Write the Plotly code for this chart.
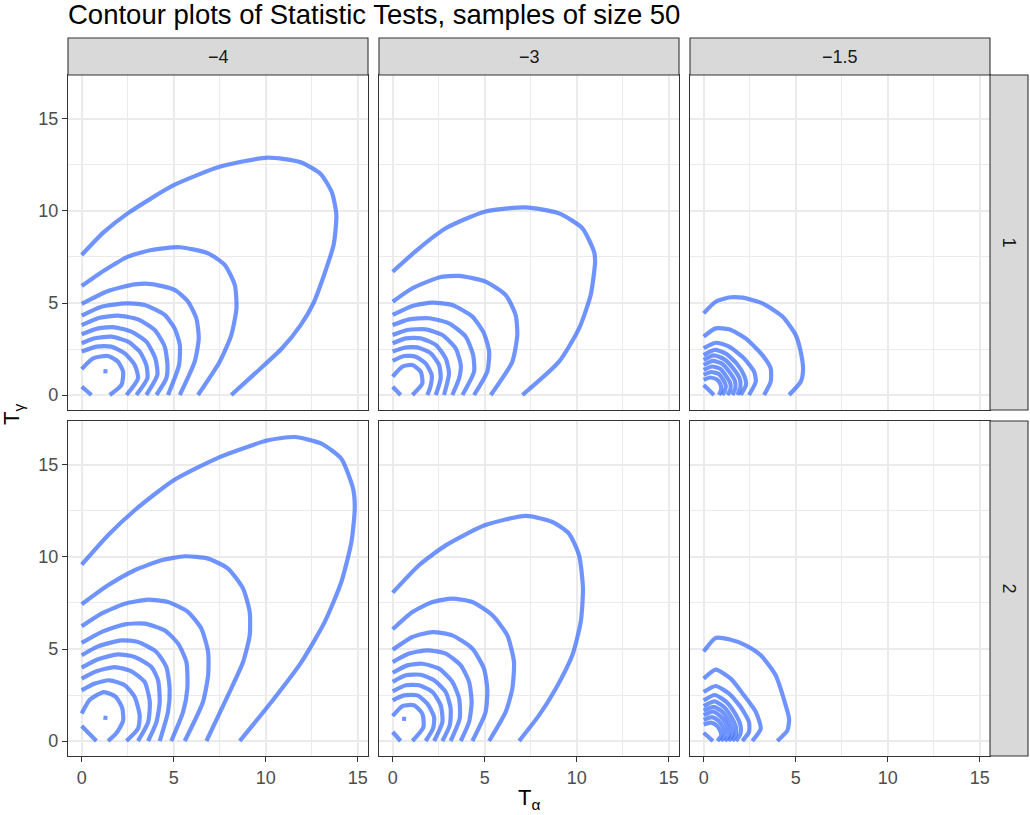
import plotly.graph_objects as go

W, H = 1030, 815

title_text = "Contour plots of Statistic Tests, samples of size 50"
col_labels = ["\u22124", "\u22123", "\u22121.5"]
row_labels = ["1", "2"]
x_ticks = [0, 5, 10, 15]
y_ticks = [0, 5, 10, 15]

# ---- contour lines (T_alpha, T_gamma) ----
# row 1, column -4
r1_m4_x = [
    [0, 1.2, 2.5, 5.0, 7.5, 10.1, 11.9, 13.0, 13.6, 13.84, 13.7, 13.2, 12.6, 11.9, 10.85, 9.45, 8.13],
    [0, 1.2, 2.52, 3.79, 5.33, 6.87, 7.77, 8.32, 8.41, 8.13, 7.5, 6.32],
    [0, 1.43, 2.88, 3.79, 5.05, 5.78, 6.23, 6.36, 6.14, 5.33],
    [0, 1.07, 2.43, 3.42, 4.51, 5.05, 5.33, 5.29, 4.69],
    [0, 0.98, 1.97, 3.06, 3.97, 4.51, 4.66, 4.60, 4.06],
    [0, 0.89, 1.79, 2.70, 3.51, 4.0, 4.11, 3.51],
    [0, 0.71, 1.61, 2.52, 3.15, 3.51, 3.57, 2.97],
    [0, 0.80, 1.61, 2.34, 2.88, 3.06, 2.43],
    [0, 0.62, 1.43, 1.97, 2.25, 2.16, 1.52],
    [0, 0.53],
    [1.18, 1.40],
]
r1_m4_y = [
    [7.61, 8.85, 9.87, 11.4, 12.4, 12.9, 12.65, 12.0, 11.0, 9.8, 8.2, 6.6, 5.0, 3.8, 2.5, 1.2, 0],
    [5.92, 6.75, 7.52, 7.88, 8.03, 7.7, 7.07, 5.98, 4.71, 3.26, 1.81, 0],
    [4.95, 5.65, 6.01, 6.03, 5.71, 5.07, 4.17, 3.08, 1.81, 0],
    [4.31, 4.80, 4.98, 4.89, 4.35, 3.62, 2.72, 1.63, 0],
    [3.80, 4.20, 4.31, 4.11, 3.53, 2.63, 1.63, 0.91, 0],
    [3.30, 3.62, 3.68, 3.44, 2.90, 1.99, 1.09, 0],
    [2.81, 3.08, 3.17, 2.90, 2.36, 1.63, 0.91, 0],
    [2.36, 2.63, 2.63, 2.26, 1.63, 0.91, 0],
    [1.41, 1.99, 2.12, 1.81, 1.27, 0.54, 0],
    [0.45, 0],
    [1.30, 1.28],
]

# row 1, column -3
r1_m3_x = [
    [0, 1.43, 2.88, 5.0, 7.23, 9.04, 10.31, 10.94, 11.0, 10.76, 10.13, 9.04, 7.05],
    [0, 1.07, 2.52, 3.61, 5.05, 6.14, 6.68, 6.77, 6.50, 5.33],
    [0, 1.07, 2.16, 3.24, 4.33, 4.96, 5.24, 5.14, 4.42],
    [0, 0.89, 1.97, 3.06, 3.97, 4.37, 4.42, 3.79],
    [0, 0.80, 1.79, 2.70, 3.42, 3.70, 3.61, 3.24],
    [0, 0.71, 1.52, 2.34, 2.88, 3.06, 2.79],
    [0, 0.62, 1.34, 2.07, 2.52, 2.61, 2.34],
    [0, 0.62, 1.25, 1.79, 2.12, 2.05, 1.88],
    [0, 0.53, 1.07, 1.52, 1.61, 1.07],
    [0, 0.43],
]
r1_m3_y = [
    [6.70, 7.97, 9.06, 9.96, 10.2, 9.87, 9.06, 7.79, 7.25, 5.43, 3.62, 1.81, 0],
    [5.07, 5.80, 6.39, 6.47, 6.16, 5.43, 4.35, 3.26, 1.81, 0],
    [4.35, 4.84, 5.02, 4.89, 4.26, 3.35, 2.36, 1.27, 0],
    [3.80, 4.11, 4.17, 3.89, 3.17, 2.17, 1.27, 0],
    [3.26, 3.53, 3.57, 3.26, 2.54, 1.63, 0.91, 0],
    [2.81, 3.08, 3.08, 2.72, 1.99, 1.18, 0],
    [2.36, 2.57, 2.59, 2.26, 1.63, 0.91, 0],
    [1.85, 2.12, 2.08, 1.72, 1.09, 0.45, 0],
    [1.0, 1.54, 1.63, 1.27, 0.63, 0],
    [0.45, 0],
]

# row 1, column -1.5
r1_m15_x = [
    [0, 0.65, 1.47, 2.10, 3.19, 4.28, 5.0, 5.27, 5.40, 5.27, 4.64],
    [0, 0.65, 1.38, 2.28, 3.19, 3.64, 3.64, 3.28],
    [0, 0.65, 1.38, 2.19, 2.74, 2.83, 2.46],
    [0, 0.6, 1.2, 1.8, 2.2, 2.3, 2.01],
    [0, 0.55, 1.1, 1.6, 1.95, 2.0, 1.83],
    [0, 0.5, 1.0, 1.4, 1.7, 1.72, 1.56],
    [0, 0.45, 0.9, 1.2, 1.45, 1.45, 1.29],
    [0, 0.4, 0.8, 1.05, 1.2, 1.15, 1.01],
    [0, 0.35, 0.7, 0.9, 0.95, 0.83],
    [0, 0.56],
]
r1_m15_y = [
    [4.44, 5.07, 5.31, 5.29, 4.98, 4.26, 3.26, 2.36, 1.36, 0.72, 0],
    [3.17, 3.62, 3.57, 3.08, 2.17, 1.45, 0.72, 0],
    [2.54, 2.84, 2.63, 1.99, 1.27, 0.72, 0],
    [2.17, 2.45, 2.25, 1.7, 1.05, 0.55, 0],
    [1.90, 2.15, 1.95, 1.45, 0.9, 0.45, 0],
    [1.63, 1.85, 1.7, 1.25, 0.75, 0.38, 0],
    [1.36, 1.55, 1.42, 1.05, 0.62, 0.3, 0],
    [1.09, 1.25, 1.15, 0.85, 0.5, 0.25, 0],
    [0.82, 0.95, 0.85, 0.6, 0.3, 0],
    [0.54, 0],
]

# row 2, column -4
r2_m4_x = [
    [0, 1.43, 2.88, 5.0, 7.5, 10.13, 11.58, 13.03, 14.11, 14.75, 14.84, 14.66, 14.11, 13.21, 11.94, 10.31, 8.59],
    [0, 1.43, 2.88, 4.33, 5.6, 6.87, 7.95, 8.77, 9.13, 9.13, 8.77, 7.95, 6.78],
    [0, 1.07, 2.34, 3.61, 4.69, 5.78, 6.50, 6.87, 6.87, 6.59, 5.6],
    [0, 1.07, 2.34, 3.42, 4.51, 5.24, 5.69, 5.74, 5.51, 4.87],
    [0, 0.89, 2.16, 3.06, 4.06, 4.60, 4.78, 4.69, 4.24],
    [0, 0.89, 1.97, 2.88, 3.79, 4.15, 4.24, 4.06, 3.61],
    [0, 0.80, 1.79, 2.70, 3.42, 3.70, 3.61, 3.06],
    [0, 0.71, 1.52, 2.34, 2.88, 3.15, 3.06, 2.43],
    [0, 0.45, 1.2, 1.85, 2.2, 2.25, 1.9, 1.43],
    [0, 0.80],
    [1.18, 1.40],
]
r2_m4_y = [
    [9.58, 11.18, 12.54, 14.17, 15.43, 16.34, 16.52, 16.16, 15.34, 13.71, 12.63, 10.82, 8.64, 6.47, 4.29, 2.12, 0],
    [7.43, 8.46, 9.28, 9.82, 10.04, 9.91, 9.37, 8.28, 7.01, 5.74, 4.29, 2.48, 0],
    [6.23, 6.92, 7.46, 7.68, 7.55, 7.01, 6.11, 4.84, 3.57, 2.12, 0],
    [5.33, 5.92, 6.34, 6.38, 6.01, 5.29, 4.29, 2.84, 1.58, 0],
    [4.66, 5.14, 5.47, 5.38, 4.84, 4.02, 2.84, 1.58, 0],
    [3.99, 4.44, 4.71, 4.57, 4.02, 3.30, 2.12, 1.03, 0],
    [3.39, 3.79, 4.02, 3.79, 3.21, 2.12, 1.03, 0],
    [2.75, 3.12, 3.30, 3.03, 2.39, 1.39, 0.67, 0],
    [1.49, 2.25, 2.66, 2.4, 1.8, 1.1, 0.45, 0],
    [0.82, 0],
    [1.27, 1.25],
]

# row 2, column -3
r2_m3_x = [
    [0, 1.43, 2.88, 5.0, 7.23, 8.68, 9.58, 10.13, 10.34, 10.22, 9.76, 8.86, 7.95, 6.87],
    [0, 1.07, 2.16, 3.24, 4.33, 5.42, 6.23, 6.59, 6.50, 6.14, 5.24],
    [0, 1.07, 2.16, 3.24, 4.33, 4.96, 5.14, 5.05, 4.33],
    [0, 0.89, 1.88, 2.88, 3.70, 4.15, 4.29, 4.15, 3.70],
    [0, 0.80, 1.61, 2.52, 3.24, 3.61, 3.64, 3.15],
    [0, 0.71, 1.52, 2.25, 2.88, 3.15, 3.10, 2.70],
    [0, 0.71, 1.43, 2.16, 2.61, 2.70, 2.25],
    [0, 0.62, 1.34, 1.88, 2.25, 2.19, 1.79],
    [0, 0.53, 1.16, 1.61, 1.67, 1.07],
    [0, 0.43],
    [0.51, 0.73],
]
r2_m3_y = [
    [8.06, 9.55, 10.63, 11.72, 12.23, 11.9, 11.27, 10.09, 8.28, 6.47, 4.66, 2.84, 1.39, 0],
    [6.07, 7.01, 7.55, 7.74, 7.55, 6.83, 5.74, 4.29, 2.84, 1.58, 0],
    [4.96, 5.65, 5.92, 5.74, 5.02, 3.93, 2.84, 1.58, 0],
    [4.29, 4.75, 4.93, 4.75, 4.11, 3.21, 2.12, 1.03, 0],
    [3.71, 4.11, 4.20, 3.93, 3.21, 2.30, 1.21, 0],
    [3.21, 3.57, 3.60, 3.30, 2.66, 1.76, 0.85, 0],
    [2.70, 3.03, 3.03, 2.66, 1.94, 1.03, 0],
    [2.21, 2.48, 2.48, 2.03, 1.30, 0.67, 0],
    [1.36, 1.90, 1.94, 1.49, 0.76, 0],
    [0.49, 0],
    [1.21, 1.20],
]

# row 2, column -1.5
r2_m15_x = [
    [0, 0.65, 1.38, 2.28, 3.10, 3.91, 4.35, 4.64, 4.55, 4.0],
    [0, 0.65, 1.47, 2.19, 2.83, 3.10, 2.64],
    [0, 0.65, 1.38, 2.01, 2.46, 2.46, 2.10],
    [0, 0.6, 1.2, 1.7, 2.0, 2.0, 1.75],
    [0, 0.6, 1.1, 1.5, 1.75, 1.75, 1.55],
    [0, 0.55, 1.0, 1.35, 1.55, 1.55, 1.35],
    [0, 0.5, 0.9, 1.2, 1.35, 1.35, 1.15],
    [0, 0.45, 0.8, 1.05, 1.15, 1.1, 0.95],
    [0, 0.4, 0.7, 0.9, 0.95, 0.75],
    [0, 0.5],
]
r2_m15_y = [
    [4.87, 5.60, 5.53, 5.20, 4.66, 3.57, 2.30, 1.21, 0.58, 0],
    [3.39, 3.88, 3.39, 2.48, 1.58, 0.67, 0],
    [2.66, 2.99, 2.57, 1.85, 1.03, 0.49, 0],
    [2.2, 2.5, 2.15, 1.5, 0.85, 0.4, 0],
    [1.9, 2.15, 1.85, 1.3, 0.75, 0.35, 0],
    [1.65, 1.85, 1.6, 1.1, 0.65, 0.3, 0],
    [1.4, 1.6, 1.35, 0.95, 0.55, 0.25, 0],
    [1.15, 1.3, 1.1, 0.75, 0.45, 0.2, 0],
    [0.9, 1.0, 0.85, 0.55, 0.3, 0],
    [0.45, 0],
]

panels = [
    (r1_m4_x, r1_m4_y), (r1_m3_x, r1_m3_y), (r1_m15_x, r1_m15_y),
    (r2_m4_x, r2_m4_y), (r2_m3_x, r2_m3_y), (r2_m15_x, r2_m15_y),
]

# ---- layout geometry (pixels) ----
col_px = [(68, 368), (379, 679), (690, 990)]
row_px = [(75, 410), (421, 756)]
x_range = [-0.745, 15.56]
y_range = [-0.815, 17.39]

LINE_COLOR = "rgba(51,102,255,0.7)"
FONT = "Liberation Sans, Arial, Helvetica, sans-serif"
GRID = "#ebebeb"
DARK = "#333333"

fig = go.Figure()

for i, (px, py) in enumerate(panels):
    ax = "" if i == 0 else str(i + 1)
    for xs, ys in zip(px, py):
        fig.add_trace(go.Scatter(
            x=xs, y=ys, mode="lines",
            line=dict(color=LINE_COLOR, width=4.2, shape="spline", smoothing=0.6),
            xaxis="x" + ax, yaxis="y" + ax,
            showlegend=False, hoverinfo="skip",
        ))

layout = dict(
    width=W, height=H,
    margin=dict(l=0, r=0, t=0, b=0),
    paper_bgcolor="white", plot_bgcolor="white",
    showlegend=False,
    font=dict(family=FONT),
)

for i in range(6):
    r, c = divmod(i, 3)
    ax = "" if i == 0 else str(i + 1)
    l, rr = col_px[c]
    t, b = row_px[r]
    show_x = (r == 1)
    show_y = (c == 0)
    layout["xaxis" + ax] = dict(
        domain=[l / W, rr / W], range=x_range, anchor="y" + ax,
        tickmode="array", tickvals=x_ticks, ticktext=[str(v) for v in x_ticks],
        showticklabels=show_x, ticks="outside" if show_x else "",
        ticklen=5, tickwidth=1.1, tickcolor=DARK,
        tickfont=dict(size=18, color="#4d4d4d", family=FONT),
        showgrid=True, gridcolor=GRID, gridwidth=1.5,
        minor=dict(tick0=0, dtick=2.5, showgrid=True, gridcolor=GRID, gridwidth=0.8, ticks=""),
        zeroline=False, showline=True, mirror=True, linecolor=DARK, linewidth=1.1,
        fixedrange=True,
    )
    layout["yaxis" + ax] = dict(
        domain=[1 - b / H, 1 - t / H], range=y_range, anchor="x" + ax,
        tickmode="array", tickvals=y_ticks, ticktext=[str(v) for v in y_ticks],
        showticklabels=show_y, ticks="outside" if show_y else "",
        ticklen=5, tickwidth=1.1, tickcolor=DARK,
        tickfont=dict(size=18, color="#4d4d4d", family=FONT),
        showgrid=True, gridcolor=GRID, gridwidth=1.5,
        minor=dict(tick0=0, dtick=2.5, showgrid=True, gridcolor=GRID, gridwidth=0.8, ticks=""),
        zeroline=False, showline=True, mirror=True, linecolor=DARK, linewidth=1.1,
        fixedrange=True,
    )

shapes = []
annotations = []
STRIP_FILL = "#d9d9d9"

# top strips
for c, lab in enumerate(col_labels):
    l, rr = col_px[c]
    shapes.append(dict(type="rect", xref="paper", yref="paper",
                       x0=l / W, x1=rr / W, y0=1 - 75 / H, y1=1 - 38 / H,
                       fillcolor=STRIP_FILL, line=dict(color=DARK, width=1.1), layer="above"))
    annotations.append(dict(xref="paper", yref="paper", x=(l + rr) / 2 / W, y=1 - 56.5 / H,
                            text=lab, showarrow=False, xanchor="center", yanchor="middle",
                            font=dict(size=18, color="#1a1a1a", family=FONT)))

# right strips
for r, lab in enumerate(row_labels):
    t, b = row_px[r]
    shapes.append(dict(type="rect", xref="paper", yref="paper",
                       x0=990 / W, x1=1028 / W, y0=1 - b / H, y1=1 - t / H,
                       fillcolor=STRIP_FILL, line=dict(color=DARK, width=1.1), layer="above"))
    annotations.append(dict(xref="paper", yref="paper", x=1009 / W, y=1 - (t + b) / 2 / H,
                            text=lab, showarrow=False, textangle=90,
                            xanchor="center", yanchor="middle",
                            font=dict(size=18, color="#1a1a1a", family=FONT)))

# title
annotations.append(dict(xref="paper", yref="paper", x=66 / W, y=1 - 14 / H,
                        text=title_text, showarrow=False, xanchor="left", yanchor="middle",
                        font=dict(size=27.5, color="black", family=FONT)))
# axis titles
annotations.append(dict(xref="paper", yref="paper", x=529 / W, y=1 - 799 / H,
                        text="T<sub>\u03b1</sub>", showarrow=False,
                        xanchor="center", yanchor="middle",
                        font=dict(size=22, color="black", family=FONT)))
annotations.append(dict(xref="paper", yref="paper", x=13 / W, y=1 - 415 / H,
                        text="T<sub>\u03b3</sub>", showarrow=False, textangle=-90,
                        xanchor="center", yanchor="middle",
                        font=dict(size=22, color="black", family=FONT)))

layout["shapes"] = shapes
layout["annotations"] = annotations
fig.update_layout(**layout)

fig.write_html("out.html")
